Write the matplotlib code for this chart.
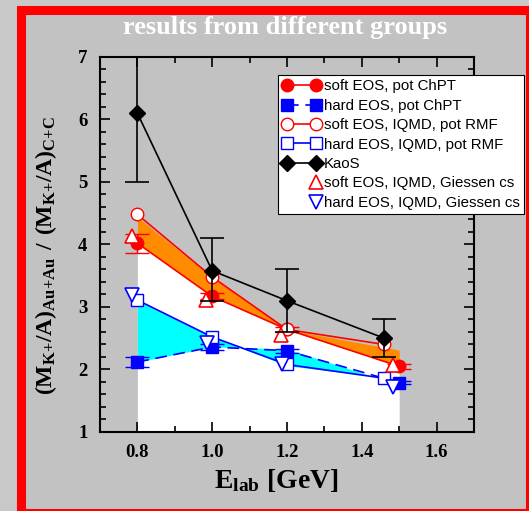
import matplotlib
matplotlib.use('Agg')
import matplotlib.pyplot as plt
from matplotlib.patches import Rectangle
from matplotlib.legend_handler import HandlerLine2D
from matplotlib.ticker import MultipleLocator

# KaoS data with asymmetric error bars
kaos_e = [0.8, 1.0, 1.2, 1.46]
kaos_r = [6.1, 3.58, 3.1, 2.5]
kaos_lo = [5.0, 3.1, 2.6, 2.2]
kaos_hi = [7.0, 4.1, 3.6, 2.8]

# ChPT potential (soft / hard EOS)
chpt_e = [0.8, 1.0, 1.2, 1.5]
soft_chpt_r = [4.02, 3.17, 2.64, 2.05]
soft_chpt_err = [0.15, 0.05, 0.04, 0.035]
hard_chpt_r = [2.12, 2.36, 2.30, 1.79]
hard_chpt_err = [0.085, 0.05, 0.03, 0.03]

# IQMD with RMF potential
rmf_e = [0.8, 1.0, 1.2, 1.46]
soft_rmf_r = [4.48, 3.48, 2.64, 2.40]
hard_rmf_r = [3.11, 2.52, 2.08, 1.86]

# IQMD with Giessen cross sections
soft_gi_e = [0.785, 0.983, 1.184, 1.484]
soft_gi_r = [4.14, 3.11, 2.55, 2.07]
hard_gi_e = [0.786, 0.986, 1.186, 1.484]
hard_gi_r = [3.19, 2.42, 2.09, 1.72]

# shaded bands
soft_band_e = [0.8, 1.0, 1.2, 1.5]
soft_band_top = [4.44, 3.47, 2.64, 2.31]
hard_band_e = [0.8, 1.0, 1.2, 1.48]
hard_band_top = [3.10, 2.52, 2.06, 1.86]
hard_band_bot = [2.12, 2.36, 2.33, 1.79]

plt.rcParams['font.family'] = 'Liberation Serif'
plt.rcParams['font.weight'] = 'bold'
plt.rcParams['mathtext.default'] = 'regular'

fig = plt.figure(figsize=(5.29, 5.11), dpi=100, facecolor='#c8c8c8')
frame = Rectangle((0.0406, -0.003), 0.961, 0.984, transform=fig.transFigure,
                  facecolor='#c2c2c2', edgecolor='red', linewidth=6.5, zorder=-1)
fig.add_artist(frame)

ax = fig.add_axes([0.189, 0.1546, 0.707, 0.734])
ax.set_facecolor('#c2c2c2')

ax.fill_between(soft_band_e, 1, soft_chpt_r, color='white', lw=0, zorder=1)
ax.fill_between(soft_band_e, soft_chpt_r, soft_band_top, color='#ff8c00', lw=0, zorder=1)
ax.fill_between(hard_band_e, hard_band_bot, hard_band_top, color='#00ffff', lw=0, zorder=1)

cap = 8.5
ax.errorbar(chpt_e, soft_chpt_r, yerr=soft_chpt_err, fmt='none', ecolor='red',
            capsize=cap, elinewidth=1, capthick=1, zorder=2)
ax.errorbar(chpt_e, hard_chpt_r, yerr=hard_chpt_err, fmt='none', ecolor='blue',
            capsize=cap, elinewidth=1, capthick=1, zorder=2)

l1, = ax.plot(chpt_e, soft_chpt_r, '-o', color='red', ms=9, lw=1.2, zorder=3)
l2, = ax.plot(chpt_e, hard_chpt_r, '--s', color='blue', ms=8, lw=1.2,
              dashes=(7, 4), zorder=3)
l3, = ax.plot(rmf_e, soft_rmf_r, '-o', color='red', mfc='white', mec='red',
              ms=9, lw=1.2, zorder=4)
l4, = ax.plot(rmf_e, hard_rmf_r, '-s', color='blue', mfc='white', mec='blue',
              ms=8, lw=1.2, zorder=4)
l6, = ax.plot(soft_gi_e, soft_gi_r, '^', ls='none', mfc='white', mec='red',
              ms=10, mew=1.2, zorder=5)
l7, = ax.plot(hard_gi_e, hard_gi_r, 'v', ls='none', mfc='white', mec='blue',
              ms=10, mew=1.2, zorder=5)

kaos_err = [[r - lo for r, lo in zip(kaos_r, kaos_lo)],
            [hi - r for r, hi in zip(kaos_r, kaos_hi)]]
ax.errorbar(kaos_e, kaos_r, yerr=kaos_err, fmt='none', ecolor='black',
            capsize=8.3, elinewidth=1.2, capthick=1.2, zorder=6)
l5, = ax.plot(kaos_e, kaos_r, '-D', color='black', ms=8, lw=1.2, zorder=7)

ax.set_xlim(0.7, 1.7)
ax.set_ylim(1, 7)
ax.xaxis.set_major_locator(MultipleLocator(0.2))
ax.xaxis.set_minor_locator(MultipleLocator(0.1))
ax.yaxis.set_major_locator(MultipleLocator(1))
ax.yaxis.set_minor_locator(MultipleLocator(0.2))
ax.tick_params(which='both', direction='in', top=True, right=True, width=1.2,
               labelsize=13.5, pad=9)
ax.tick_params(which='major', length=7)
ax.tick_params(which='minor', length=4)
for s in ax.spines.values():
    s.set_linewidth(1.5)


class MarkerAtEnd(HandlerLine2D):
    # only the right-hand marker in the legend
    def create_artists(self, *args, **kwargs):
        artists = super().create_artists(*args, **kwargs)
        for a in artists:
            a.set_markevery([1])
        return artists


handles = [l1, l2, l3, l4, l5, l6, l7]
labels = ['soft EOS, pot ChPT', 'hard EOS, pot ChPT', 'soft EOS, IQMD, pot RMF',
          'hard EOS, IQMD, pot RMF', 'KaoS', 'soft EOS, IQMD, Giessen cs',
          'hard EOS, IQMD, Giessen cs']
leg = ax.legend(handles, labels, loc='upper left', bbox_to_anchor=(0.476, 0.952),
                borderaxespad=0, numpoints=2, handlelength=2.5, handletextpad=0.25,
                borderpad=0.3, labelspacing=0.36, fancybox=False, framealpha=1,
                edgecolor='black',
                prop={'family': 'Liberation Sans', 'size': 10.8, 'weight': 'normal'},
                handler_map={l6: MarkerAtEnd(numpoints=2), l7: MarkerAtEnd(numpoints=2)})
leg.get_frame().set_linewidth(0.8)
leg.set_zorder(10)

fig.text(0.539, 0.947, 'results from different groups', color='white',
         fontsize=19, ha='center', va='center')
fig.text(0.522, 0.045, r'$E_{lab}$ [GeV]', fontsize=20, ha='center', va='baseline')
fig.text(0.087, 0.50, r'$(M_{K{+}}/A)_{Au{+}Au}\ /\ (M_{K{+}}/A)_{C{+}C}$', fontsize=17,
         rotation=90, ha='center', va='center')

fig.savefig('out.png', dpi=100, facecolor=fig.get_facecolor())
